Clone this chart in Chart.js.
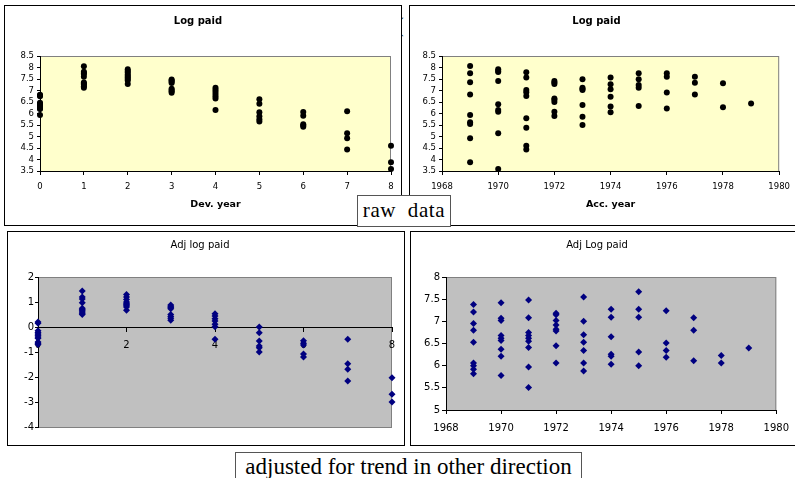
<!DOCTYPE html>
<html>
<head>
<meta charset="utf-8">
<script src="https://cdn.jsdelivr.net/npm/chart.js@4.4.1/dist/chart.umd.min.js"></script>
<style>
body { margin: 0; background: #fff; }
#page { position: relative; width: 795px; height: 478px; overflow: hidden; background: #fff; }
.panel { position: absolute; box-sizing: border-box; border: 1px solid #000; background: #fff; }
.panel canvas { position: absolute; left: 0; top: 0; }
.note { position: absolute; box-sizing: border-box; border: 1px solid #555; background: #fff;
        font-family: "Liberation Serif", serif; color: #000; white-space: pre; text-align: center; }
</style>
</head>
<body>
<div id="page">
  <div class="note" style="left:397px;top:14px;border:none;font-size:20px;background:none">(</div>
  <div class="panel" style="left:4px;top:5px;width:398px;height:221px"><canvas id="c1" width="396" height="219"></canvas></div>
  <div class="panel" style="left:409px;top:5px;width:389px;height:221px"><canvas id="c2" width="387" height="219"></canvas></div>
  <div class="panel" style="left:7px;top:231px;width:398px;height:215px"><canvas id="c3" width="396" height="213"></canvas></div>
  <div class="panel" style="left:410px;top:231px;width:388px;height:215px"><canvas id="c4" width="386" height="213"></canvas></div>
  <div class="note" style="left:357px;top:195px;width:94px;height:32px;font-size:21px;line-height:29px;letter-spacing:0.6px">raw  data</div>
  <div class="note" style="left:235px;top:452px;width:347px;height:34px;font-size:23px;line-height:28px">adjusted for trend in other direction</div>
</div>
<script>
'use strict'

// 開発年 (dev. year) ごとの log paid
const devYears = [0, 1, 2, 3, 4, 5, 6, 7, 8];
const logPaidByDev = [
  [6.82, 6.78, 6.75, 6.47, 6.42, 6.38, 6.33, 6.28, 6.22, 6.20, 5.93],
  [8.05, 7.82, 7.76, 7.72, 7.60, 7.35, 7.30, 7.25, 7.18, 7.12],
  [7.92, 7.85, 7.78, 7.70, 7.63, 7.57, 7.50, 7.43, 7.28],
  [7.48, 7.43, 7.38, 7.33, 7.08, 7.02, 6.97, 6.90],
  [7.12, 7.03, 6.95, 6.85, 6.75, 6.65, 6.15],
  [6.62, 6.42, 6.05, 5.88, 5.75, 5.65],
  [6.07, 5.90, 5.53, 5.48, 5.42],
  [6.10, 5.14, 4.92, 4.44],
  [4.60, 3.88, 3.59]
];

// 事故年 (acc. year) ごとの log paid
const accYears = [1969, 1970, 1971, 1972, 1973, 1974, 1975, 1976, 1977, 1978, 1979];
const logPaidByAcc = [
  [8.07, 7.75, 7.36, 6.83, 5.93, 5.62, 5.54, 4.92, 3.88],
  [7.92, 7.85, 7.80, 7.41, 6.40, 6.15, 6.08, 5.14, 3.59],
  [7.79, 7.56, 7.02, 6.92, 6.76, 5.79, 5.38, 4.60, 4.44],
  [7.41, 7.35, 7.28, 6.65, 6.60, 6.50, 6.08, 5.89],
  [7.49, 7.12, 7.07, 7.02, 6.37, 5.86, 5.50],
  [7.57, 7.27, 7.05, 6.73, 6.30, 6.05],
  [7.75, 7.49, 7.24, 7.12, 6.33],
  [7.75, 7.60, 6.91, 6.22],
  [7.60, 7.34, 6.83],
  [7.31, 6.27],
  [6.44]
];

// 逆方向のトレンドを調整した値
const adjByDev = [
  [0.20, 0.15, -0.15, -0.22, -0.28, -0.33, -0.40, -0.45, -0.60, -0.65, -0.70],
  [1.44, 1.20, 1.12, 0.97, 0.75, 0.70, 0.65, 0.60, 0.55, 0.50],
  [1.30, 1.20, 1.10, 1.00, 0.95, 0.90, 0.85, 0.80, 0.67],
  [0.88, 0.83, 0.78, 0.73, 0.50, 0.42, 0.35, 0.27],
  [0.53, 0.44, 0.33, 0.24, 0.11, 0.01, -0.49],
  [0.00, -0.23, -0.56, -0.76, -0.83, -1.00],
  [-0.55, -0.65, -0.72, -1.08, -1.20],
  [-0.49, -1.47, -1.69, -2.16],
  [-2.03, -2.69, -3.00]
];
const adjByAcc = [
  [7.38, 7.21, 6.95, 6.80, 6.53, 6.06, 6.00, 5.92, 5.82],
  [7.42, 7.07, 7.02, 6.68, 6.62, 6.57, 6.37, 6.21, 5.78],
  [7.48, 7.08, 6.75, 6.68, 6.62, 6.55, 6.41, 5.97, 5.51],
  [7.18, 7.15, 7.02, 6.92, 6.82, 6.78, 6.45, 6.06],
  [7.55, 7.00, 6.70, 6.53, 6.34, 6.06, 5.88],
  [7.27, 7.09, 6.65, 6.26, 6.21, 6.03],
  [7.67, 7.27, 7.09, 6.31, 6.00],
  [7.24, 6.51, 6.34, 6.19],
  [7.08, 6.80, 6.11],
  [6.23, 6.06],
  [6.40]
];

Chart.defaults.font.family = '"DejaVu Sans", sans-serif';
Chart.defaults.color = '#000';

function toPoints(xs, groups) {
  return xs.flatMap((x, i) => groups[i].map(v => ({x: x, y: v})));
}

// プロットエリアの背景と枠
const plotFrame = {
  id: 'plotFrame',
  beforeDraw(chart, args, opts) {
    const a = chart.chartArea;
    const c = chart.ctx;
    c.save();
    c.fillStyle = opts.fill;
    c.fillRect(a.left, a.top, a.right - a.left, a.bottom - a.top);
    c.strokeStyle = opts.stroke;
    c.lineWidth = 1;
    c.strokeRect(a.left + 0.5, a.top + 0.5, a.right - a.left - 1, a.bottom - a.top);
    c.restore();
  }
};

function axis(min, max, step, size, tickLen, pad, fitFn) {
  return {
    type: 'linear', min: min, max: max,
    ticks: {stepSize: step, color: '#000', font: {size: size}, padding: pad,
            autoSkip: false, maxRotation: 0, callback: v => String(v)},
    grid: {drawOnChartArea: false, tickLength: tickLen, color: '#000'},
    border: {color: '#000'},
    afterFit: fitFn
  };
}

function makeChart(id, pts, marker, title, pad, frame, xs, ys) {
  return new Chart(document.getElementById(id), {
    type: 'scatter',
    data: {datasets: [{data: pts, clip: false, pointRadius: marker.r, pointStyle: marker.style,
                       backgroundColor: marker.color, borderColor: marker.color, borderWidth: 0}]},
    options: {
      responsive: false, animation: false, events: [],
      layout: {padding: pad},
      plugins: {
        legend: {display: false}, tooltip: {enabled: false},
        title: title,
        plotFrame: frame
      },
      scales: {x: xs, y: ys}
    },
    plugins: [plotFrame]
  });
}

const dot = {r: 3, style: 'circle', color: '#000'};
const diamond = {r: 3.5, style: 'rectRot', color: '#000080'};

// 左上: Log paid vs Dev. year
const x1 = axis(0, 8, 1, 8.5, 4, 7, s => { s.height = 40; });
x1.title = {display: true, text: 'Dev. year', color: '#000', font: {size: 9.5, weight: 'bold'}, padding: {top: 0, bottom: 1}};
makeChart('c1', toPoints(devYears, logPaidByDev), dot,
  {display: true, text: 'Log paid', color: '#000', font: {size: 10, weight: 'bold', lineHeight: 1.2}, padding: {top: 9, bottom: 29}},
  {left: 0, top: 0, right: 10, bottom: 14},
  {fill: '#ffffcc', stroke: '#808080'},
  x1, axis(3.5, 8.5, 0.5, 8.5, 3, 3, s => { s.width = 35; }));

// 右上: Log paid vs Acc. year
const x2 = axis(1968, 1980, 2, 8.5, 4, 7, s => { s.height = 40; });
x2.title = {display: true, text: 'Acc. year', color: '#000', font: {size: 9.5, weight: 'bold'}, padding: {top: 0, bottom: 1}};
makeChart('c2', toPoints(accYears, logPaidByAcc), dot,
  {display: true, text: 'Log paid', color: '#000', font: {size: 10, weight: 'bold', lineHeight: 1.2}, padding: {top: 9, bottom: 29}},
  {left: 0, top: 0, right: 14, bottom: 14},
  {fill: '#ffffcc', stroke: '#808080'},
  x2, axis(3.5, 8.5, 0.5, 8.5, 3, 3, s => { s.width = 32; }));

// 左下: Adj log paid vs dev (x軸は0の位置)
const x3 = axis(0, 8, 2, 10, 4, 8, null);
x3.position = {y: 0};
makeChart('c3', toPoints(devYears, adjByDev), diamond,
  {display: true, text: 'Adj log paid', color: '#000', font: {size: 10, weight: 'normal', lineHeight: 1.2}, padding: {top: 7, bottom: 26}},
  {left: 0, top: 0, right: 12, bottom: 18},
  {fill: '#c0c0c0', stroke: '#808080'},
  x3, axis(-4, 2, 1, 10, 3, 1, s => { s.width = 30; }));

// 右下: Adj Log paid vs acc
makeChart('c4', toPoints(accYears, adjByAcc), diamond,
  {display: true, text: 'Adj Log paid', color: '#000', font: {size: 10, weight: 'normal', lineHeight: 1.2}, padding: {top: 7, bottom: 26}},
  {left: 0, top: 0, right: 14, bottom: 5},
  {fill: '#c0c0c0', stroke: '#808080'},
  axis(1968, 1980, 2, 10, 4, 8, s => { s.height = 30; }),
  axis(5, 8, 0.5, 10, 4, 2, s => { s.width = 35; }));
</script>
</body>
</html>
